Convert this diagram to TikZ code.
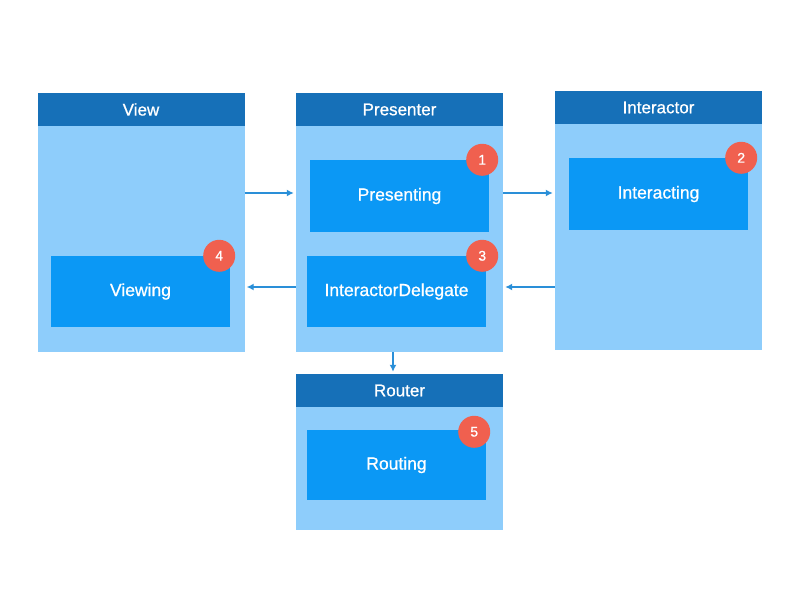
\documentclass[tikz,border=0pt]{standalone}
\usepackage{fontspec}
\setmainfont{Liberation Sans}
\newfontfamily\labelfont{Liberation Sans}[BoldFont={Liberation Sans}, BoldFeatures={FakeBold=0.8}]
\usepackage{tikz}
\usetikzlibrary{arrows.meta}
\usetikzlibrary{calc}

\definecolor{headblue}{HTML}{1670B8}
\definecolor{panelblue}{HTML}{8ECDFB}
\definecolor{boxblue}{HTML}{0B98F5}
\definecolor{badgered}{HTML}{F0604F}
\definecolor{linkblue}{HTML}{2A8FD8}

\tikzset{
every picture/.style={
x=1pt, y=1pt
},
panel/.style={fill=panelblue, minimum width=207, inner sep=0},
header/.style={fill=headblue, text=white, minimum width=207, minimum height=33, inner sep=0, font=\labelfont\bfseries\fontsize{17}{20}\selectfont},
role/.style={fill=boxblue, text=white, minimum width=179, minimum height=72, inner sep=0, font=\labelfont\bfseries\fontsize{17.5}{20}\selectfont},
badge/.style={circle, fill=badgered, text=white, minimum size=32, inner sep=0, font=\labelfont\bfseries\fontsize{14}{17}\selectfont},
link/.style={draw=linkblue, line width=1.4pt, -{Latex[length=7pt,width=7pt]}, shorten >=2pt}
}

\begin{document}
\begin{tikzpicture}
  \useasboundingbox (0,0) rectangle (800,600);

  % VIPER modules
  \node [panel, minimum height=259] at (141, 377.5) (view) {};
  \node [header, anchor=north] at (view.north) (viewhead) {\raisebox{-1.5pt}{View}};
  \node [panel, minimum height=259] at (399.5, 377.5) (presenter) {};
  \node [header, anchor=north] at (presenter.north) (presenterhead) {\raisebox{-1.5pt}{Presenter}};
  \node [panel, minimum height=259] at (658.5, 379.5) (interactor) {};
  \node [header, anchor=north] at (interactor.north) (interactorhead) {\raisebox{-1.5pt}{Interactor}};
  \node [panel, minimum height=156] at (399.5, 148) (router) {};
  \node [header, anchor=north] at (router.north) (routerhead) {\raisebox{-1.5pt}{Router}};

  \node [role] at (399.5, 404) (presenting) {Presenting};
  \node [role] at (658.5, 406) (interacting) {Interacting};
  \node [role, minimum height=71] at (140.5, 308.5) (viewing) {Viewing};
  \node [role, minimum height=71] at (396.5, 308.5) (delegate) {InteractorDelegate};
  \node [role, minimum height=70] at (396.5, 135) (routing) {Routing};

  \node [badge] at ($(presenting.north east)+(-7,0)$) (one) {1};
  \node [badge] at ($(interacting.north east)+(-7,0)$) (two) {2};
  \node [badge] at ($(delegate.north east)+(-4,0)$) (three) {3};
  \node [badge] at ($(viewing.north east)+(-11,0)$) (four) {4};
  \node [badge] at ($(routing.north east)+(-12,-2)$) (five) {5};

  \draw [link] (view.east |- 0,407) -- (presenter.west |- 0,407);
  \draw [link] (presenter.east |- 0,407) -- (interactor.west |- 0,407);
  \draw [link] (interactor.west |- 0,313) -- (presenter.east |- 0,313);
  \draw [link] (presenter.west |- 0,313) -- (view.east |- 0,313);
  \draw [link] (presenter.south -| 393,0) -- (router.north -| 393,0);

\end{tikzpicture}
\end{document}
